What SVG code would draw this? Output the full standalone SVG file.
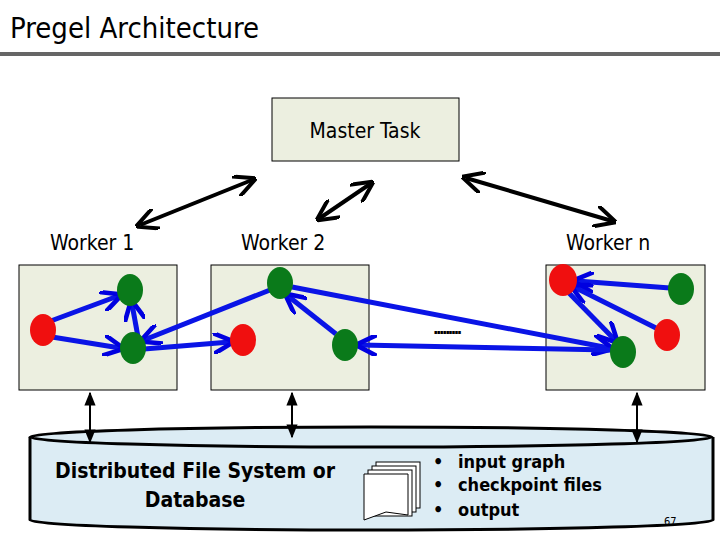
<svg xmlns="http://www.w3.org/2000/svg" width="720" height="540" viewBox="0 0 720 540">
<defs>
<marker id="bh" viewBox="0 0 10 10" refX="8" refY="5" markerWidth="4.2" markerHeight="4.2" orient="auto-start-reverse"><path d="M0,0 L10,5 L0,10" fill="none" stroke="#0000e0" stroke-width="2.2"/></marker>
<marker id="kh" viewBox="0 0 10 10" refX="8" refY="5" markerWidth="5.5" markerHeight="5.5" orient="auto-start-reverse"><path d="M0,0 L10,5 L0,10" fill="none" stroke="#000" stroke-width="1.8"/></marker>
<marker id="sh" viewBox="0 0 10 10" refX="9" refY="5" markerWidth="7" markerHeight="7" orient="auto-start-reverse"><path d="M0,1 L10,5 L0,9z" fill="#000"/></marker>
</defs>
<style>
text{font-family:"DejaVu Sans Condensed","DejaVu Sans",sans-serif;fill:#000}
.box{fill:#ecefe0;stroke:#000;stroke-width:1}
.g{fill:#0a7a1a}.r{fill:#f00f0f}
.be{stroke:#0a14e6;stroke-width:5;fill:none;marker-end:url(#bh)}
.ke{stroke:#000;stroke-width:4;fill:none;marker-end:url(#kh);marker-start:url(#kh)}
.ve{stroke:#000;stroke-width:2;marker-end:url(#sh);marker-start:url(#sh)}
</style>
<rect width="720" height="540" fill="#fff"/>
<text x="10" y="38" font-size="29" fill="#222">Pregel Architecture</text>
<rect x="0" y="52" width="720" height="4" fill="#666"/>
<g id="master"><rect class="box" x="272" y="98" width="187" height="63"/><text x="365" y="138" font-size="21" text-anchor="middle">Master Task</text></g>
<g font-size="21">
<text id="w1l" x="50" y="250">Worker 1</text>
<text id="w2l" x="241" y="250">Worker 2</text>
<text id="wnl" x="566" y="250">Worker n</text>
</g>
<g id="cyl">
<path d="M30,437 L30,520 A341,10 0 0 0 713,520 L713,437" fill="#dcecf4" stroke="#000" stroke-width="3"/>
<ellipse cx="371" cy="437" rx="341" ry="10" fill="#dcecf4" stroke="#000" stroke-width="3"/>
<text x="195" y="478" font-size="21" font-weight="bold" text-anchor="middle">Distributed File System or</text>
<text x="195" y="507" font-size="21" font-weight="bold" text-anchor="middle">Database</text>
<g fill="#fff" stroke="#000" stroke-width="1">
<rect x="376" y="462" width="44" height="46"/><rect x="372" y="466" width="44" height="46"/><rect x="368" y="470" width="44" height="46"/>
<path d="M364,474 h44 v41 l-22,-3 l-22,8z"/>
</g>
<g font-size="18" font-weight="bold"><text x="433" y="468">•</text><text x="433" y="491">•</text><text x="433" y="516">•</text>
<text x="458" y="468">input graph</text><text x="458" y="491">checkpoint files</text><text x="458" y="516">output</text></g>
</g>
<g id="worker1"><rect class="box" x="19" y="265" width="158" height="125"/></g>
<g id="worker2"><rect class="box" x="211" y="265" width="158" height="125"/></g>
<g id="workern"><rect class="box" x="546" y="265" width="159" height="125"/></g>
<g id="connectors">
<line class="ke" x1="140" y1="225" x2="252" y2="180"/>
<line class="ke" x1="320" y1="218" x2="370" y2="184"/>
<line class="ke" x1="466" y1="178" x2="612" y2="221"/>
<line class="ve" x1="90" y1="393" x2="90" y2="442"/>
<line class="ve" x1="292" y1="393" x2="292" y2="437"/>
<line class="ve" x1="637" y1="393" x2="637" y2="442"/>
<line class="be" x1="48" y1="322" x2="118" y2="296"/>
<line class="be" x1="52" y1="337" x2="120" y2="348"/>
<line class="be" x1="138" y1="337" x2="132" y2="304"/>
<line class="be" x1="270" y1="290" x2="144" y2="340"/>
<line class="be" x1="144" y1="349" x2="230" y2="342"/>
<line class="be" x1="336" y1="334" x2="288" y2="296"/>
<line class="be" x1="292" y1="287" x2="609" y2="348"/>
<line class="be" x1="610" y1="350" x2="360" y2="345"/>
<line class="be" x1="670" y1="288" x2="577" y2="281"/>
<line class="be" x1="656" y1="328" x2="574" y2="287"/>
<line class="be" x1="568" y1="292" x2="615" y2="340"/>
</g>
<g id="nodes">
<ellipse class="r" cx="43" cy="330" rx="13" ry="16"/>
<ellipse class="g" cx="130" cy="290" rx="13" ry="16"/>
<ellipse class="g" cx="133" cy="348" rx="13" ry="16"/>
<ellipse class="g" cx="280" cy="283" rx="13" ry="16"/>
<ellipse class="r" cx="243" cy="340" rx="13" ry="16"/>
<ellipse class="g" cx="345" cy="345" rx="13" ry="16"/>
<ellipse class="r" cx="563" cy="280" rx="14" ry="16"/>
<ellipse class="g" cx="681" cy="289" rx="13" ry="16"/>
<ellipse class="r" cx="667" cy="335" rx="13" ry="16"/>
<ellipse class="g" cx="623" cy="352" rx="13" ry="16"/>
</g>
<text x="433" y="334" font-size="16" font-weight="bold" letter-spacing="-2.5">.........</text>
<text x="664" y="525" font-size="11" fill="#999">67</text>
</svg>
